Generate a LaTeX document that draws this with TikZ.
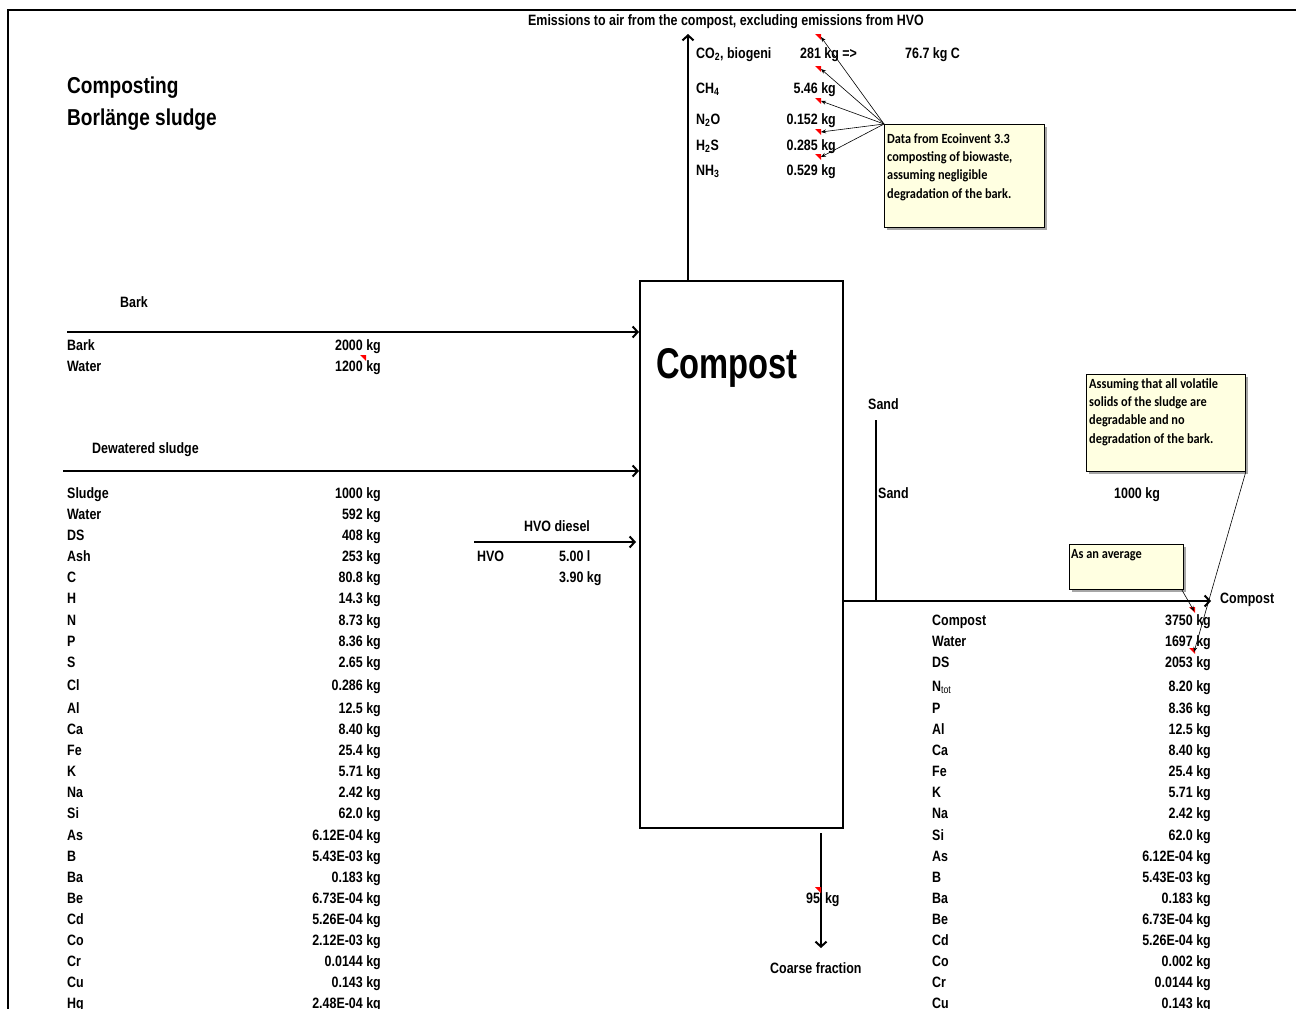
\documentclass[tikz,border=0pt]{standalone}
\usepackage{fontspec}
\setmainfont{Liberation Sans}[FakeStretch=0.83]
\newfontfamily\bigfont{Liberation Sans}[FakeStretch=0.76]
\newfontfamily\notefont{Carlito}[FakeStretch=0.88]
\usetikzlibrary{arrows.meta}
\definecolor{notefill}{HTML}{FFFFE1}
\newcommand\redtri[1]{\fill[red] (#1) ++(-3,0) -- ++(6,0) -- ++(0,6) -- cycle;}
\begin{document}
\begin{tikzpicture}[x=1pt,y=-1pt,
  txt/.style={anchor=base west, inner sep=0pt, font=\fontsize{15}{15}\selectfont\bfseries},
  val/.style={anchor=base east, inner sep=0pt, font=\fontsize{15}{15}\selectfont\bfseries},
  flow/.style={line width=2.2pt, -{Straight Barb[length=5pt,width=11pt,line width=2pt]}},
  plainline/.style={line width=2.2pt},
  notebox/.style={draw=black, line width=0.8pt, fill=notefill},
  notetext/.style={anchor=north west, inner sep=0pt, align=left,
     font=\notefont\fontsize{14}{18.4}\selectfont\bfseries},
  pointer/.style={line width=0.6pt, -{Stealth[length=5pt,width=4pt]}},
]
\useasboundingbox (0,0) rectangle (1296,1009);
\fill[white] (0,0) rectangle (1296,1009);
% frame
\draw[line width=2pt] (8,1009) -- (8,10) -- (1296,10);

% title
\node[anchor=base west, inner sep=0pt, font=\fontsize{23}{23}\selectfont\bfseries] (t1) at (67,93) {Composting};
\node[anchor=base west, inner sep=0pt, font=\fontsize{23}{23}\selectfont\bfseries] (t2) at (67,125) {Borlänge sludge};

% main box
\node[draw, line width=1.5pt, minimum width=203pt, minimum height=547pt, anchor=north west, inner sep=0pt] (box) at (639,280) {};
\node[anchor=base west, inner sep=0pt, font=\bigfont\fontsize{43}{43}\selectfont\bfseries] (boxlabel) at (656,378) {Compost};

% emissions header and arrow
\node[anchor=base, inner sep=0pt, font=\fontsize{15}{15}\selectfont\bfseries] (emh) at (726,25) {Emissions to air from the compost, excluding emissions from HVO};
\coordinate (em0) at (688,280);
\coordinate (em1) at (688,34);
\draw[flow] (em0) -- (em1);

\begin{scope}
\clip (690,35) rectangle (770,70);
\node[txt] (co2) at (696,58) {CO\textsubscript{2}, biogenic};
\end{scope}
\node[txt] (co2v) at (800,58) {281 kg =>};
\node[txt] (co2c) at (905,58) {76.7 kg C};
\node[txt] (ch4) at (696,93) {CH\textsubscript{4}};
\node[val] (ch4v) at (836,93) {5.46 kg};
\node[txt] (n2o) at (696,124) {N\textsubscript{2}O};
\node[val] (n2ov) at (836,124) {0.152 kg};
\node[txt] (h2s) at (696,150) {H\textsubscript{2}S};
\node[val] (h2sv) at (836,150) {0.285 kg};
\node[txt] (nh3) at (696,175) {NH\textsubscript{3}};
\node[val] (nh3v) at (836,175) {0.529 kg};

% emissions note
\fill[gray!70] (887,127) rectangle (1047,230);
\node[notebox, minimum width=160pt, minimum height=103pt, anchor=north west, inner sep=0pt] (note1) at (884,124) {};
\node[notetext] (note1t) at (887,133) {Data from Ecoinvent 3.3\\composting of biowaste,\\assuming negligible\\degradation of the bark.};
\redtri{818,34}
\redtri{818,66}
\redtri{818,98}
\redtri{818,129}
\redtri{818,154}
\coordinate (p1) at (821,37);
\coordinate (p2) at (821,69);
\coordinate (p3) at (821,101);
\coordinate (p4) at (821,132);
\coordinate (p5) at (821,157);
\foreach \p in {p1,p2,p3,p4,p5} \draw[pointer] (note1.north west) -- (\p);

% bark input
\node[txt] (barkh) at (120,307) {Bark};
\coordinate (b0) at (67,332);
\coordinate (b1) at (box.west |- b0);
\draw[flow] (b0) -- (b1);
\node[txt] (bark1) at (67,350) {Bark};
\node[val] (bark1v) at (381,350) {2000 kg};
\node[txt] (bark2) at (67,371) {Water};
\node[val] (bark2v) at (381,371) {1200 kg};
\redtri{363,355}

% sludge input
\node[txt] (sl) at (92,453) {Dewatered sludge};
\coordinate (s0) at (63,471);
\coordinate (s1) at (box.west |- s0);
\draw[flow] (s0) -- (s1);
\foreach \n/\v/\y in {Sludge/1000/498, Water/592/519, DS/408/540, Ash/253/561, C/80.8/582, H/14.3/603, N/8.73/625, P/8.36/646, S/2.65/667, Cl/0.286/690, Al/12.5/713, Ca/8.40/734, Fe/25.4/755, K/5.71/776, Na/2.42/797, Si/62.0/818, As/6.12E-04/840, B/5.43E-03/861, Ba/0.183/882, Be/6.73E-04/903, Cd/5.26E-04/924, Co/2.12E-03/945, Cr/0.0144/966, Cu/0.143/987, Hg/2.48E-04/1008}
{
  \node[txt] (l\n) at (67,\y) {\n};
  \node[val] (lv\n) at (381,\y) {\v\ kg};
}

% HVO
\node[txt] (hvoh) at (524,531) {HVO diesel};
\coordinate (h0) at (474,542);
\coordinate (h1) at (636,542);
\draw[flow] (h0) -- (h1);
\node[txt] (hvo) at (477,561) {HVO};
\node[txt] (hvov1) at (559,561) {5.00 l};
\node[txt] (hvov2) at (559,582) {3.90 kg};

% sand
\node[txt] (sandh) at (868,409) {Sand};
\coordinate (sd0) at (876,420);
\coordinate (sd1) at (876,601);
\draw[plainline] (sd0) -- (sd1);
\node[txt] (sand) at (878,498) {Sand};
\node[txt] (sandv) at (1114,498) {1000 kg};

% output
\coordinate (o0) at (box.east |- sd1);
\coordinate (o1) at (1211,601);
\draw[flow] (o0) -- (o1);
\node[txt] (outl) at (1220,603) {Compost};

\foreach \n/\v/\y in {Compost/3750/625, Water/1697/646, DS/2053/667, Al/12.5/734, Ca/8.40/755, Fe/25.4/776, K/5.71/797, Na/2.42/818, Si/62.0/840, As/6.12E-04/861, B/5.43E-03/882, Ba/0.183/903, Be/6.73E-04/924, Cd/5.26E-04/945, Co/0.002/966, Cr/0.0144/987, Cu/0.143/1008}
{
  \node[txt] (r\n) at (932,\y) {\n};
  \node[val] (rv\n) at (1211,\y) {\v\ kg};
}
\node[txt] (rN) at (932,691) {N\textsubscript{\mdseries tot}};
\node[val] (rvN) at (1211,691) {8.20 kg};
\node[txt] (rP) at (932,713) {P};
\node[val] (rvP) at (1211,713) {8.36 kg};

% notes on output
\fill[gray!70] (1089,377) rectangle (1248,474);
\node[notebox, minimum width=159pt, minimum height=97pt, anchor=north west, inner sep=0pt] (note2) at (1086,374) {};
\node[notetext] (note2t) at (1089,378) {Assuming that all volatile\\solids of the sludge are\\degradable and no\\degradation of the bark.};
\fill[gray!70] (1072,547) rectangle (1186,592);
\node[notebox, minimum width=114pt, minimum height=45pt, anchor=north west, inner sep=0pt] (note3) at (1069,544) {};
\node[notetext] (note3t) at (1071,549) {As an average};
\redtri{1192,607}
\redtri{1192,648}
\coordinate (q1) at (1194,611);
\coordinate (q2) at (1194,652);
\draw[pointer] (note3.south east) ++(-2,0) -- (q1);
\draw[pointer] (note2.south east) -- (q2);

% coarse fraction
\coordinate (c0) at (821,833);
\coordinate (c1) at (821,948);
\draw[flow] (c0) -- (c1);
\node[txt] (cv) at (806,903) {95\hspace{5pt}kg};
\redtri{818,887}
\node[txt] (cf) at (770,973) {Coarse fraction};
\end{tikzpicture}
\end{document}
